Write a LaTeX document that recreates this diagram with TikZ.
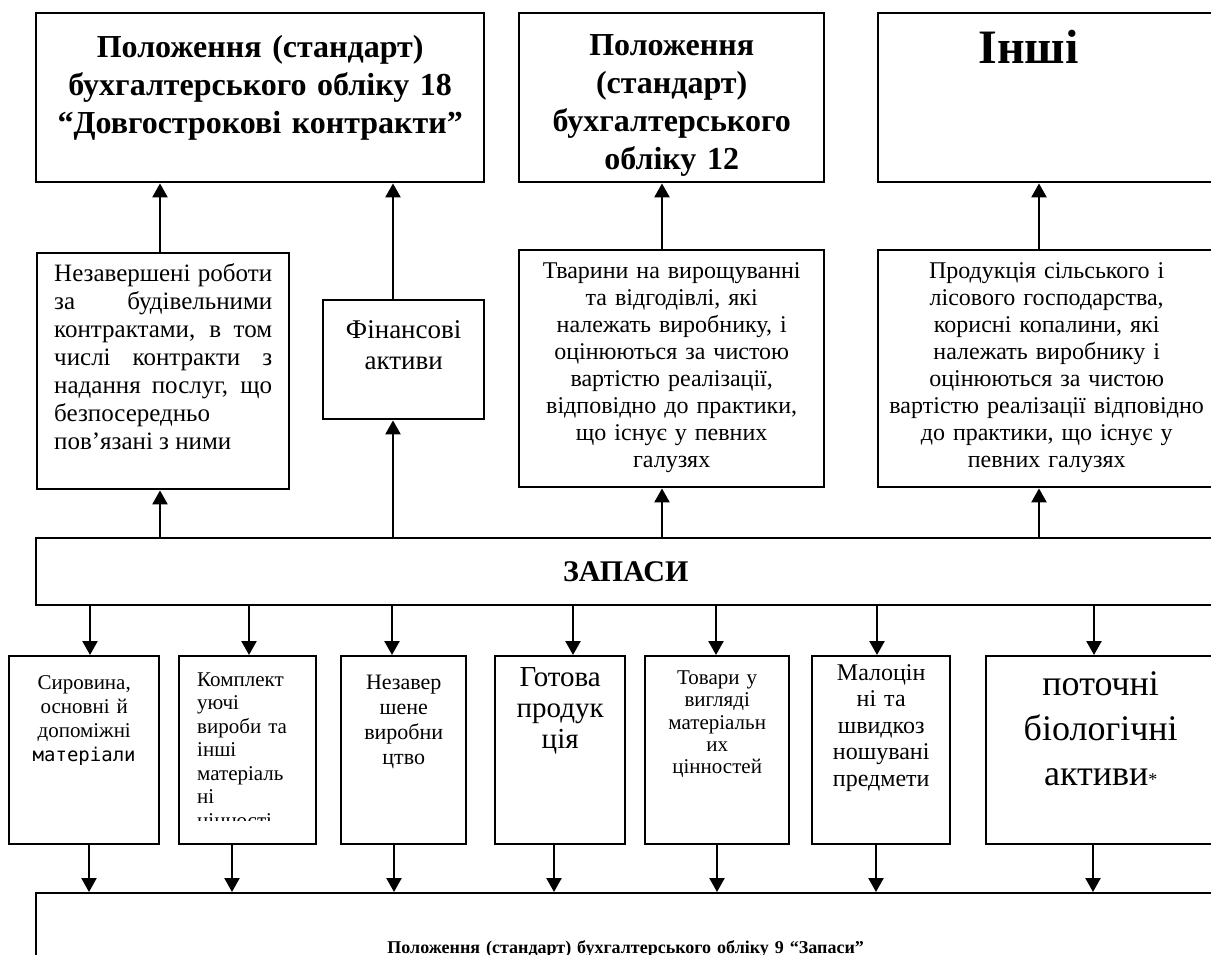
\documentclass[tikz,border=0pt]{standalone}
\usepackage{fontspec}
\setmainfont{Liberation Serif}
\newfontfamily\monoDV{DejaVu Sans Mono}
\usetikzlibrary{arrows.meta}

\begin{document}
\begin{tikzpicture}[x=0.5pt,y=-0.5pt,>={Triangle[length=7pt,width=7.5pt]},line width=1.2pt,
	blok/.style={draw,anchor=north west,inner sep=0pt,align=center},
	zag/.style={font=\fontsize{16}{19}\selectfont\bfseries}]
	\useasboundingbox (0,0) rectangle (1211,954);
	% verkhnii riad
	\node[blok,zag,text width=224pt,text height=22pt,text depth=62.5pt] (A) at (35,12) {Положення (стандарт)\\ бухгалтерського обліку 18\\ “Довгострокові контракти”};
	\node[blok,zag,text width=152.5pt,text height=21pt,text depth=63.5pt] (B) at (518,12) {Положення\\ (стандарт)\\ бухгалтерського\\ обліку 12};
	\node[blok,font=\fontsize{24}{28}\selectfont\bfseries,text width=168.5pt,text height=25pt,text depth=59.5pt] (C) at (877,12) {\hspace*{-18pt}Інші};
	% drugyi riad
	\node[blok,align=justify,inner xsep=8.5pt,font=\fontsize{12.5}{14}\selectfont,text width=109pt,text height=14pt,text depth=104pt] (D) at (36,252) {Незавершені роботи\linebreak за будівельними\linebreak контрактами, в том\linebreak числі контракти з\linebreak надання послуг, що\linebreak безпосередньо\newline пов’язані з ними};
	\node[blok,font=\fontsize{13.5}{15.5}\selectfont,text width=80.5pt,text height=19pt,text depth=40.5pt] (E) at (322,299) {Фінансові\\ активи};
	\node[blok,font=\fontsize{12}{13.5}\selectfont,text width=152.5pt,text height=14pt,text depth=104.5pt] (F) at (518,249) {Тварини на вирощуванні\\ та відгодівлі, які\\ належать виробнику, і\\ оцінюються за чистою\\ вартістю реалізації,\\ відповідно до практики,\\ що існує у певних\\ галузях};
	\node[blok,font=\fontsize{12}{13.5}\selectfont,text width=168.5pt,text height=14pt,text depth=104.5pt] (G) at (877,249) {Продукція сільського і\\ лісового господарства,\\ корисні копалини, які\\ належать виробнику і\\ оцінюються за чистою\\ вартістю реалізації відповідно\\ до практики, що існує у\\ певних галузях};
	% zapasy
	\node[blok,font=\fontsize{15}{18}\selectfont\bfseries,text width=589.5pt,text height=21.5pt,text depth=12pt] (zap) at (35,537) {ЗАПАСИ};
	% tretii riad
	\node[blok,font=\fontsize{10.5}{12}\selectfont,text width=75pt,text height=16.5pt,text depth=77.5pt] (s1) at (8,655) {Сировина,\\ основні й\\ допоміжні\\ {\monoDV\fontsize{9.5}{12}\selectfont матеріали}};
	\node[blok,align=left,inner xsep=9pt,font=\fontsize{10.5}{11.75}\selectfont,text width=50.5pt,text height=15pt,text depth=79pt] (s2) at (178,655) {Комплект\\ уючі\\ вироби та\\ інші\\ матеріаль\\ ні\\ цінності};
	\fill[white] (180,821) rectangle (313.5,841.5);
	\node[blok,font=\fontsize{11}{12.5}\selectfont,text width=62.5pt,text height=16.5pt,text depth=77.5pt] (s3) at (340,655) {Незавер\\ шене\\ виробни\\ цтво};
	\node[blok,font=\fontsize{14.5}{15.5}\selectfont,text width=65pt,text height=15pt,text depth=79pt] (s4) at (494,655) {Готова\\ продук\\ ція};
	\node[blok,font=\fontsize{10.5}{11.2}\selectfont,text width=72pt,text height=14pt,text depth=80pt] (s5) at (644,655) {Товари у\\ вигляді\\ матеріальн\\ их\\ цінностей};
	\node[blok,font=\fontsize{12}{13.25}\selectfont,text width=69pt,text height=12pt,text depth=82pt] (s6) at (811,655) {Малоцін\\ ні та\\ швидкоз\\ ношувані\\ предмети};
	\node[blok,font=\fontsize{18}{22.5}\selectfont,text width=114.5pt,text height=19.5pt,text depth=74.5pt] (s7) at (985,655) {поточні\\ біологічні\\ активи{\fontsize{9}{9}\selectfont*}};
	% nyzhnii
	\node[blok,font=\fontsize{9}{10}\selectfont\bfseries,text width=589.5pt,text height=30pt,text depth=20pt] (bot) at (35,892) {Положення (стандарт) бухгалтерського обліку 9 “Запаси”};
	% strilky
	\foreach \n/\t/\a in {D/A/160,E/A/393,F/B/662,G/C/1039}{
		\draw[->] (\a,0 |- zap.north) -- (\a,0 |- \n.south);
		\draw[->] (\a,0 |- \n.north) -- (\a,0 |- \t.south);
	}
	\foreach \n/\a/\b in {s1/90/89,s2/249/232,s3/392/394,s4/573/554,s5/716/717,s6/877/876,s7/1094/1093}{
		\draw[->] (\a,0 |- zap.south) -- (\a,0 |- \n.north);
		\draw[->] (\b,0 |- \n.south) -- (\b,0 |- bot.north);
	}
\end{tikzpicture}
\end{document}
